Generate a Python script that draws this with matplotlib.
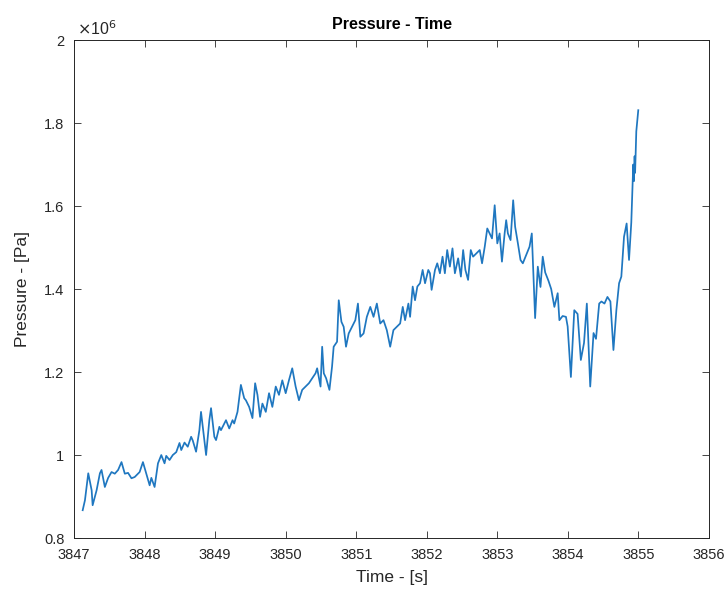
import matplotlib
matplotlib.use("Agg")
import matplotlib.pyplot as plt
from matplotlib.ticker import FuncFormatter

# Time [s] and pressure [1e6 Pa]
time_s = [
    3847.123, 3847.155, 3847.202, 3847.250, 3847.264, 3847.320, 3847.367, 3847.390,
    3847.437, 3847.484, 3847.532, 3847.578, 3847.625, 3847.673, 3847.720, 3847.766,
    3847.814, 3847.860, 3847.930, 3847.977, 3848.025, 3848.072, 3848.096, 3848.142,
    3848.190, 3848.237, 3848.283, 3848.307, 3848.354, 3848.400, 3848.449, 3848.495,
    3848.520, 3848.566, 3848.612, 3848.660, 3848.683, 3848.730, 3848.777, 3848.800,
    3848.847, 3848.872, 3848.918, 3848.942, 3848.989, 3849.013, 3849.060, 3849.083,
    3849.154, 3849.200, 3849.247, 3849.270, 3849.317, 3849.365, 3849.412, 3849.436,
    3849.482, 3849.529, 3849.567, 3849.600, 3849.637, 3849.670, 3849.718, 3849.764,
    3849.811, 3849.859, 3849.905, 3849.952, 3850.000, 3850.046, 3850.093, 3850.141,
    3850.188, 3850.234, 3850.282, 3850.329, 3850.376, 3850.423, 3850.446, 3850.494,
    3850.517, 3850.540, 3850.573, 3850.620, 3850.657, 3850.680, 3850.728, 3850.752,
    3850.790, 3850.822, 3850.855, 3850.893, 3850.940, 3850.987, 3851.024, 3851.058,
    3851.104, 3851.150, 3851.199, 3851.245, 3851.292, 3851.340, 3851.386, 3851.433,
    3851.481, 3851.527, 3851.574, 3851.622, 3851.659, 3851.692, 3851.739, 3851.763,
    3851.800, 3851.833, 3851.866, 3851.904, 3851.941, 3851.975, 3852.021, 3852.045,
    3852.068, 3852.116, 3852.148, 3852.186, 3852.223, 3852.256, 3852.289, 3852.327,
    3852.364, 3852.398, 3852.444, 3852.483, 3852.515, 3852.547, 3852.585, 3852.623,
    3852.656, 3852.702, 3852.750, 3852.783, 3852.821, 3852.857, 3852.891, 3852.924,
    3852.962, 3852.999, 3853.032, 3853.065, 3853.103, 3853.125, 3853.149, 3853.187,
    3853.224, 3853.252, 3853.291, 3853.328, 3853.361, 3853.408, 3853.456, 3853.488,
    3853.535, 3853.573, 3853.611, 3853.643, 3853.678, 3853.724, 3853.763, 3853.808,
    3853.855, 3853.879, 3853.925, 3853.972, 3853.996, 3854.042, 3854.090, 3854.137,
    3854.183, 3854.228, 3854.268, 3854.316, 3854.363, 3854.398, 3854.443, 3854.475,
    3854.518, 3854.560, 3854.602, 3854.645, 3854.687, 3854.725, 3854.757, 3854.795,
    3854.832, 3854.866, 3854.898, 3854.926, 3854.935, 3854.945, 3854.952, 3854.969,
    3854.997,
]
pressure_mpa = [
    0.867, 0.891, 0.956, 0.915, 0.879, 0.915, 0.956, 0.964,
    0.923, 0.945, 0.959, 0.955, 0.964, 0.983, 0.955, 0.957,
    0.944, 0.947, 0.959, 0.983, 0.955, 0.927, 0.945, 0.923,
    0.980, 1.000, 0.980, 0.998, 0.988, 1.000, 1.007, 1.029,
    1.012, 1.030, 1.020, 1.044, 1.035, 1.008, 1.060, 1.104,
    1.036, 1.000, 1.084, 1.113, 1.044, 1.036, 1.068, 1.060,
    1.084, 1.064, 1.084, 1.076, 1.104, 1.169, 1.137, 1.132,
    1.116, 1.089, 1.173, 1.145, 1.092, 1.124, 1.104, 1.149,
    1.116, 1.165, 1.145, 1.180, 1.149, 1.180, 1.209, 1.165,
    1.132, 1.157, 1.165, 1.173, 1.185, 1.197, 1.209, 1.165,
    1.261, 1.197, 1.185, 1.157, 1.213, 1.261, 1.273, 1.373,
    1.321, 1.309, 1.261, 1.293, 1.309, 1.325, 1.365, 1.285,
    1.293, 1.333, 1.357, 1.333, 1.365, 1.317, 1.325, 1.301,
    1.261, 1.301, 1.309, 1.317, 1.357, 1.325, 1.365, 1.333,
    1.406, 1.373, 1.406, 1.414, 1.446, 1.414, 1.446, 1.438,
    1.398, 1.446, 1.462, 1.438, 1.478, 1.438, 1.494, 1.454,
    1.498, 1.438, 1.474, 1.430, 1.494, 1.446, 1.422, 1.494,
    1.478, 1.486, 1.494, 1.462, 1.502, 1.546, 1.534, 1.522,
    1.602, 1.510, 1.534, 1.466, 1.534, 1.566, 1.534, 1.518,
    1.614, 1.550, 1.510, 1.470, 1.462, 1.482, 1.502, 1.534,
    1.330, 1.454, 1.405, 1.478, 1.440, 1.420, 1.400, 1.357,
    1.390, 1.325, 1.335, 1.333, 1.310, 1.188, 1.349, 1.340,
    1.229, 1.270, 1.365, 1.165, 1.294, 1.280, 1.365, 1.370,
    1.365, 1.381, 1.370, 1.253, 1.350, 1.414, 1.430, 1.526,
    1.558, 1.470, 1.560, 1.700, 1.660, 1.720, 1.680, 1.780,
    1.831,
]

x_ticks = [3847, 3848, 3849, 3850, 3851, 3852, 3853, 3854, 3855, 3856]
y_ticks = [0.8e6, 1.0e6, 1.2e6, 1.4e6, 1.6e6, 1.8e6, 2.0e6]

plt.rcParams['font.family'] = ['Liberation Sans', 'DejaVu Sans']
txt = '#262626'

fig = plt.figure(figsize=(7.27, 5.98), dpi=100)
ax = fig.add_axes([0.1018, 0.1003, 0.8735, 0.8327])

ax.plot(time_s, [p * 1e6 for p in pressure_mpa], color='#1f77c0', lw=1.25)

ax.set_xlim(3847, 3856)
ax.set_ylim(0.8e6, 2.0e6)
ax.set_xticks(x_ticks)
ax.set_yticks(y_ticks)
ax.yaxis.set_major_formatter(FuncFormatter(lambda v, _: f"{v / 1e6:g}"))
ax.tick_params(direction='in', length=5, width=0.6, labelsize=10.5,
               colors=txt, top=True, right=True, pad=7)
for s in ax.spines.values():
    s.set_color(txt)
    s.set_linewidth(0.7)

ax.set_title('Pressure - Time', fontsize=11.5, fontweight='bold', color='black', pad=8)
ax.set_xlabel('Time - [s]', fontsize=12.5, color=txt, labelpad=6)
ax.set_ylabel('Pressure - [Pa]', fontsize=12.5, color=txt, labelpad=10)
ax.text(0.005, 1.004, r'$\times$10$^{6}$', transform=ax.transAxes, fontsize=11.5,
        color=txt, ha='left', va='bottom')

fig.savefig('out.png', dpi=100)
